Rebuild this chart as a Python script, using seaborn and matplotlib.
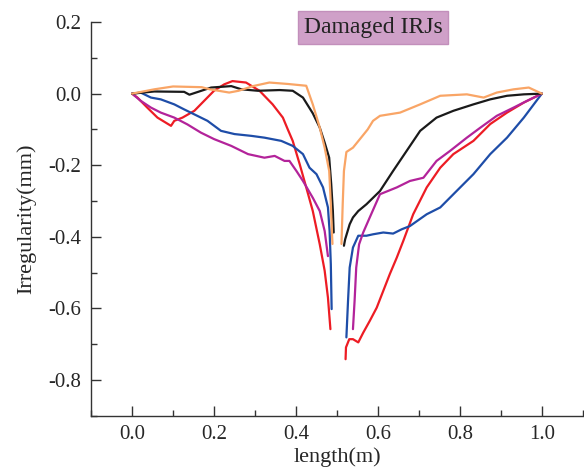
import matplotlib
matplotlib.use("Agg")
import matplotlib.pyplot as plt
from matplotlib.ticker import MultipleLocator
import numpy as np
import pandas as pd
import seaborn as sns

# Irregularity profiles of five damaged insulated rail joints.
# Each joint has a branch before the gap (a) and after the gap (b).
orange_xa = [0.0, 0.054, 0.1, 0.17, 0.19, 0.237, 0.26, 0.295, 0.335, 0.38, 0.425, 0.441, 0.458, 0.47, 0.481, 0.485, 0.488, 0.489]
orange_ya = [0.0, 0.012, 0.02, 0.018, 0.012, 0.003, 0.008, 0.021, 0.031, 0.027, 0.022, -0.03, -0.095, -0.151, -0.216, -0.308, -0.393, -0.42]
orange_xb = [0.511, 0.514, 0.517, 0.523, 0.539, 0.556, 0.575, 0.588, 0.605, 0.654, 0.703, 0.752, 0.817, 0.858, 0.89, 0.931, 0.968, 1.0]
orange_yb = [-0.42, -0.309, -0.216, -0.163, -0.151, -0.127, -0.1, -0.076, -0.062, -0.053, -0.03, -0.006, -0.002, -0.011, 0.003, 0.012, 0.017, 0.0]

black_xa = [0.0, 0.054, 0.127, 0.14, 0.193, 0.242, 0.267, 0.307, 0.36, 0.392, 0.417, 0.441, 0.458, 0.47, 0.481, 0.486, 0.49, 0.492]
black_ya = [0.0, 0.006, 0.005, -0.003, 0.017, 0.021, 0.012, 0.008, 0.01, 0.008, -0.011, -0.055, -0.095, -0.137, -0.179, -0.253, -0.328, -0.388]
black_xb = [0.517, 0.52, 0.531, 0.539, 0.552, 0.572, 0.605, 0.637, 0.67, 0.703, 0.743, 0.784, 0.833, 0.874, 0.915, 0.956, 1.0]
black_yb = [-0.425, -0.407, -0.365, -0.346, -0.328, -0.309, -0.272, -0.216, -0.16, -0.104, -0.067, -0.048, -0.03, -0.016, -0.006, -0.002, 0.0]

red_xa = [0.0, 0.013, 0.037, 0.062, 0.095, 0.103, 0.123, 0.152, 0.176, 0.2, 0.225, 0.245, 0.278, 0.311, 0.343, 0.368, 0.38, 0.392, 0.409, 0.425, 0.441, 0.458, 0.47, 0.478, 0.484]
red_ya = [0.0, -0.011, -0.039, -0.067, -0.09, -0.076, -0.067, -0.048, -0.02, 0.008, 0.026, 0.035, 0.031, 0.008, -0.03, -0.067, -0.1, -0.132, -0.197, -0.262, -0.328, -0.421, -0.495, -0.57, -0.658]
red_xb = [0.521, 0.522, 0.53, 0.539, 0.552, 0.564, 0.58, 0.597, 0.613, 0.629, 0.646, 0.662, 0.674, 0.686, 0.719, 0.752, 0.784, 0.833, 0.874, 0.915, 0.956, 1.0]
red_yb = [-0.742, -0.709, -0.686, -0.686, -0.695, -0.668, -0.635, -0.598, -0.551, -0.504, -0.458, -0.411, -0.374, -0.337, -0.262, -0.207, -0.169, -0.132, -0.085, -0.053, -0.025, 0.0]

blue_xa = [0.0, 0.021, 0.046, 0.07, 0.103, 0.127, 0.152, 0.184, 0.217, 0.25, 0.291, 0.323, 0.364, 0.392, 0.417, 0.433, 0.45, 0.466, 0.478, 0.482, 0.485, 0.487]
blue_ya = [0.0, 0.003, -0.011, -0.016, -0.03, -0.044, -0.058, -0.076, -0.104, -0.113, -0.118, -0.123, -0.132, -0.146, -0.169, -0.207, -0.225, -0.262, -0.318, -0.384, -0.477, -0.602]
blue_xb = [0.523, 0.527, 0.531, 0.539, 0.552, 0.572, 0.588, 0.613, 0.637, 0.658, 0.678, 0.719, 0.752, 0.792, 0.833, 0.874, 0.915, 0.956, 1.0]
blue_yb = [-0.681, -0.579, -0.486, -0.43, -0.397, -0.397, -0.393, -0.388, -0.391, -0.379, -0.37, -0.337, -0.318, -0.272, -0.225, -0.169, -0.123, -0.067, 0.0]

magenta_xa = [0.0, 0.021, 0.046, 0.07, 0.103, 0.135, 0.168, 0.2, 0.242, 0.283, 0.323, 0.348, 0.372, 0.384, 0.401, 0.417, 0.441, 0.458, 0.47, 0.478]
magenta_ya = [0.0, -0.02, -0.039, -0.053, -0.067, -0.086, -0.109, -0.127, -0.146, -0.169, -0.179, -0.174, -0.188, -0.188, -0.216, -0.244, -0.291, -0.328, -0.384, -0.454]
magenta_xb = [0.539, 0.543, 0.547, 0.554, 0.564, 0.58, 0.605, 0.646, 0.678, 0.711, 0.743, 0.776, 0.817, 0.85, 0.89, 0.931, 0.964, 1.0]
magenta_yb = [-0.658, -0.579, -0.486, -0.421, -0.388, -0.346, -0.281, -0.262, -0.244, -0.235, -0.188, -0.16, -0.123, -0.095, -0.062, -0.039, -0.02, 0.0]

x_ticks = [0.0, 0.2, 0.4, 0.6, 0.8, 1.0]
y_ticks = [-0.8, -0.6, -0.4, -0.2, 0.0, 0.2]

sns.set_style("ticks")
plt.rcParams["font.family"] = ["Liberation Serif", "DejaVu Serif"]

fig = plt.figure(figsize=(5.84, 4.69), dpi=100)
ax = fig.add_axes([0.156, 0.1135, 0.842, 0.8395])

series = [
    ("#ED1C24", red_xa, red_ya, red_xb, red_yb),
    ("#1E4DA8", blue_xa, blue_ya, blue_xb, blue_yb),
    ("#B3239A", magenta_xa, magenta_ya, magenta_xb, magenta_yb),
    ("#1A1A1A", black_xa, black_ya, black_xb, black_yb),
    ("#F9A566", orange_xa, orange_ya, orange_xb, orange_yb),
]
for color, xa, ya, xb, yb in series:
    for xs, ys in ((xa, ya), (xb, yb)):
        df = pd.DataFrame({"x": xs, "y": ys})
        sns.lineplot(data=df, x="x", y="y", sort=False, estimator=None,
                     color=color, linewidth=1.6, ax=ax, legend=False)

ax.set_xlim(-0.1, 1.1)
ax.set_ylim(-0.9, 0.2)
ax.set_xticks(x_ticks)
ax.set_yticks(y_ticks)
ax.set_xticklabels([f"{v:.1f}" for v in x_ticks])
ax.set_yticklabels([f"{v:.1f}" for v in y_ticks])
ax.xaxis.set_minor_locator(MultipleLocator(0.1))
ax.yaxis.set_minor_locator(MultipleLocator(0.1))
ax.tick_params(which="major", direction="in", length=7, width=1.0,
               color="#333333", labelsize=15, pad=7)
ax.tick_params(which="minor", direction="in", length=4, width=1.0, color="#333333")
for side in ("top", "right"):
    ax.spines[side].set_visible(False)
for side in ("left", "bottom"):
    ax.spines[side].set_color("#333333")
    ax.spines[side].set_linewidth(1.0)

ax.set_xlabel("length(m)", fontsize=16, labelpad=2)
ax.set_ylabel("Irregularity(mm)", fontsize=16, labelpad=9)

fig.text(0.639, 0.942, "Damaged IRJs", fontsize=17, ha="center", va="center",
         color="#222222",
         bbox=dict(boxstyle="square,pad=0.25", facecolor="#CFA0C8",
                   edgecolor="#C28FBB", linewidth=1.0))

fig.savefig("out.png", dpi=100)
